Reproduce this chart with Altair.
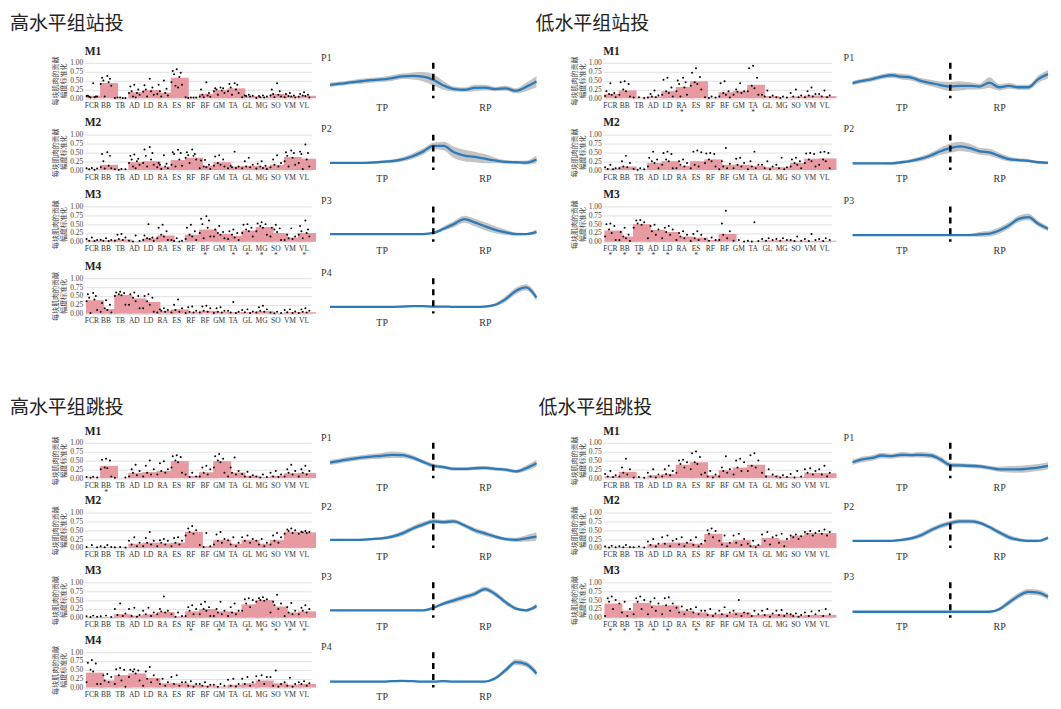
import json
import altair as alt
import pandas as pd

SERIF = "Liberation Serif"
CJK = "Noto Sans CJK SC"
BAR_COLOR = "#e79aa2"
LINE_COLOR = "#2b7bba"
BAND_COLOR = "#c4c4c4"

MUSCLES = ["FCR", "BB", "TB", "AD", "LD", "RA", "ES", "RF", "BF", "GM", "TA", "GL", "MG", "SO", "VM", "VL"]
Y_TITLE = ["每块肌肉的贡献", "幅度标准化"]
Y_TICKS = [0, 0.25, 0.5, 0.75, 1.0]
T_GRID = [0, 5, 10, 15, 20, 25, 30, 35, 40, 45, 50, 55, 60, 65, 70, 75, 80, 85, 90, 95, 100]
PHASE_SPLIT = 50
PHASE_LABELS = ["TP", "RP"]

QUAD_TITLES = ["高水平组站投", "低水平组站投", "高水平组跳投", "低水平组跳投"]
M_TITLES = ["M1", "M2", "M3", "M4"]
P_TITLES = ["P1", "P2", "P3", "P4"]

# ---------------- 高水平组站投 ----------------
HS_BARS = [
    [0.07, 0.43, 0.01, 0.17, 0.23, 0.16, 0.58, 0.02, 0.13, 0.23, 0.28, 0.06, 0.04, 0.12, 0.06, 0.07],
    [0.02, 0.15, 0.02, 0.22, 0.25, 0.10, 0.28, 0.35, 0.12, 0.22, 0.10, 0.12, 0.10, 0.15, 0.37, 0.32],
    [0.04, 0.04, 0.07, 0.02, 0.10, 0.18, 0.02, 0.20, 0.35, 0.22, 0.17, 0.32, 0.42, 0.25, 0.12, 0.25],
    [0.38, 0.13, 0.53, 0.43, 0.33, 0.08, 0.12, 0.05, 0.08, 0.05, 0.04, 0.04, 0.07, 0.02, 0.04, 0.04],
]
HS_DOTS = [
    [[0.42, 0.07, 0.05, 0.04, 0.03, 0.06, 0.05, 0.02], [0.63, 0.58, 0.55, 0.50, 0.45, 0.40, 0.35, 0.05],
     [0.02, 0.01, 0.01, 0.02, 0.01], [0.38, 0.33, 0.25, 0.20, 0.15, 0.15, 0.10, 0.05, 0.02],
     [0.55, 0.37, 0.30, 0.25, 0.20, 0.18, 0.10, 0.05], [0.50, 0.38, 0.27, 0.20, 0.15, 0.12, 0.08, 0.05],
     [0.82, 0.77, 0.72, 0.68, 0.60, 0.45, 0.38, 0.35, 0.30], [0.02, 0.03, 0.02, 0.01, 0.02],
     [0.45, 0.25, 0.15, 0.10, 0.08, 0.05, 0.04, 0.03], [0.30, 0.28, 0.28, 0.25, 0.22, 0.20, 0.15, 0.10],
     [0.42, 0.40, 0.38, 0.30, 0.25, 0.20, 0.15, 0.10], [0.10, 0.08, 0.07, 0.06, 0.05, 0.03],
     [0.08, 0.06, 0.05, 0.03, 0.02, 0.01], [0.42, 0.25, 0.20, 0.12, 0.10, 0.08, 0.05, 0.03],
     [0.15, 0.12, 0.08, 0.06, 0.05, 0.03, 0.02], [0.17, 0.12, 0.10, 0.08, 0.06, 0.04, 0.02]],
    [[0.06, 0.05, 0.04, 0.02, 0.01], [0.50, 0.45, 0.40, 0.25, 0.12, 0.08, 0.05, 0.04],
     [0.03, 0.02, 0.02, 0.01], [0.44, 0.40, 0.32, 0.30, 0.25, 0.20, 0.15, 0.10, 0.05],
     [0.65, 0.58, 0.48, 0.40, 0.30, 0.20, 0.15, 0.10], [0.42, 0.20, 0.18, 0.15, 0.10, 0.08, 0.05, 0.03],
     [0.57, 0.50, 0.48, 0.45, 0.30, 0.15, 0.12, 0.10], [0.58, 0.50, 0.45, 0.42, 0.40, 0.35, 0.30, 0.20],
     [0.28, 0.27, 0.15, 0.10, 0.08, 0.05, 0.03], [0.42, 0.38, 0.30, 0.20, 0.15, 0.12, 0.10],
     [0.52, 0.12, 0.10, 0.08, 0.06, 0.05], [0.35, 0.25, 0.15, 0.10, 0.08, 0.05],
     [0.25, 0.18, 0.12, 0.10, 0.06, 0.04, 0.03], [0.42, 0.30, 0.20, 0.15, 0.10, 0.08],
     [0.55, 0.50, 0.48, 0.40, 0.35, 0.25, 0.15, 0.10], [0.72, 0.52, 0.48, 0.45, 0.30, 0.20, 0.10, 0.03]],
    [[0.12, 0.08, 0.05, 0.03, 0.02], [0.10, 0.06, 0.05, 0.03, 0.02],
     [0.22, 0.20, 0.12, 0.08, 0.05, 0.03], [0.18, 0.03, 0.02, 0.01],
     [0.50, 0.18, 0.12, 0.10, 0.08, 0.05, 0.02], [0.48, 0.40, 0.30, 0.20, 0.15, 0.10, 0.05],
     [0.10, 0.05, 0.03, 0.02, 0.01], [0.48, 0.40, 0.30, 0.20, 0.15, 0.08, 0.05],
     [0.72, 0.65, 0.60, 0.50, 0.40, 0.25, 0.15, 0.10], [0.45, 0.35, 0.28, 0.25, 0.20, 0.15, 0.10],
     [0.35, 0.30, 0.25, 0.20, 0.12, 0.08, 0.05], [0.50, 0.48, 0.40, 0.35, 0.30, 0.25, 0.15],
     [0.55, 0.52, 0.50, 0.45, 0.40, 0.30, 0.20], [0.48, 0.40, 0.38, 0.35, 0.28, 0.15, 0.05],
     [0.38, 0.20, 0.15, 0.10, 0.08, 0.05], [0.60, 0.45, 0.35, 0.30, 0.25, 0.20, 0.15, 0.10]],
    [[0.58, 0.55, 0.50, 0.45, 0.40, 0.35, 0.10, 0.02], [0.38, 0.30, 0.25, 0.15, 0.10, 0.05, 0.03],
     [0.62, 0.60, 0.58, 0.55, 0.52, 0.50, 0.25], [0.60, 0.55, 0.50, 0.45, 0.35, 0.25, 0.15],
     [0.55, 0.50, 0.45, 0.35, 0.25, 0.15, 0.05], [0.15, 0.12, 0.10, 0.08, 0.05, 0.03],
     [0.40, 0.25, 0.15, 0.10, 0.05, 0.03], [0.20, 0.18, 0.08, 0.05, 0.03, 0.02],
     [0.22, 0.20, 0.15, 0.08, 0.05, 0.03], [0.18, 0.15, 0.08, 0.05, 0.03, 0.02],
     [0.33, 0.08, 0.05, 0.03, 0.02], [0.12, 0.10, 0.06, 0.04, 0.02],
     [0.22, 0.18, 0.12, 0.08, 0.05, 0.03], [0.05, 0.03, 0.02, 0.01],
     [0.12, 0.10, 0.06, 0.04, 0.02], [0.15, 0.12, 0.08, 0.05, 0.03, 0.02]],
]
HS_STARS = [[], [], ["BF", "TA", "GL", "MG", "SO", "VL"], []]
HS_MEAN = [
    [0.38, 0.41, 0.45, 0.48, 0.51, 0.53, 0.57, 0.62, 0.63, 0.61, 0.52, 0.36, 0.26, 0.24, 0.29, 0.30, 0.26, 0.28, 0.21, 0.32, 0.47],
    [0.20, 0.20, 0.20, 0.20, 0.21, 0.23, 0.25, 0.30, 0.39, 0.52, 0.68, 0.68, 0.50, 0.41, 0.37, 0.32, 0.27, 0.23, 0.22, 0.21, 0.30],
    [0.22, 0.22, 0.22, 0.22, 0.22, 0.22, 0.22, 0.22, 0.22, 0.22, 0.25, 0.37, 0.50, 0.64, 0.55, 0.44, 0.34, 0.27, 0.22, 0.22, 0.28],
    [0.19, 0.19, 0.19, 0.19, 0.19, 0.19, 0.19, 0.20, 0.21, 0.21, 0.20, 0.20, 0.19, 0.19, 0.19, 0.20, 0.25, 0.41, 0.64, 0.74, 0.45],
]
HS_HALF = [
    [0.06, 0.06, 0.06, 0.07, 0.07, 0.07, 0.08, 0.08, 0.10, 0.13, 0.16, 0.12, 0.07, 0.06, 0.09, 0.08, 0.06, 0.07, 0.07, 0.12, 0.16],
    [0.03, 0.03, 0.03, 0.03, 0.04, 0.04, 0.05, 0.06, 0.08, 0.09, 0.09, 0.12, 0.16, 0.16, 0.15, 0.13, 0.08, 0.05, 0.04, 0.06, 0.11],
    [0.02, 0.02, 0.02, 0.02, 0.02, 0.02, 0.02, 0.02, 0.02, 0.02, 0.03, 0.06, 0.09, 0.10, 0.11, 0.11, 0.10, 0.08, 0.04, 0.03, 0.07],
    [0.02, 0.02, 0.02, 0.02, 0.02, 0.02, 0.02, 0.02, 0.02, 0.02, 0.02, 0.02, 0.02, 0.02, 0.02, 0.03, 0.04, 0.08, 0.09, 0.09, 0.09],
]

# ---------------- 低水平组站投 ----------------
LS_BARS = [
    [0.12, 0.22, 0.02, 0.05, 0.20, 0.32, 0.48, 0.02, 0.17, 0.20, 0.38, 0.06, 0.02, 0.05, 0.08, 0.06],
    [0.04, 0.10, 0.02, 0.20, 0.25, 0.12, 0.25, 0.30, 0.15, 0.15, 0.12, 0.08, 0.08, 0.20, 0.32, 0.33],
    [0.32, 0.15, 0.50, 0.34, 0.28, 0.15, 0.12, 0.05, 0.22, 0.01, 0.02, 0.04, 0.04, 0.03, 0.03, 0.03],
]
LS_DOTS = [
    [[0.42, 0.20, 0.15, 0.12, 0.10, 0.06, 0.03], [0.48, 0.45, 0.40, 0.25, 0.20, 0.10, 0.05],
     [0.03, 0.02, 0.01], [0.22, 0.12, 0.08, 0.05, 0.03, 0.02],
     [0.58, 0.52, 0.30, 0.20, 0.15, 0.10, 0.05], [0.58, 0.50, 0.45, 0.40, 0.30, 0.20, 0.10, 0.05],
     [0.85, 0.72, 0.60, 0.45, 0.40, 0.35, 0.25], [0.05, 0.03, 0.02, 0.01],
     [0.48, 0.42, 0.20, 0.15, 0.10, 0.05, 0.02], [0.42, 0.25, 0.20, 0.18, 0.15, 0.10],
     [0.92, 0.85, 0.58, 0.35, 0.28, 0.20, 0.10], [0.22, 0.10, 0.08, 0.05, 0.03],
     [0.05, 0.03, 0.02, 0.01], [0.25, 0.15, 0.08, 0.05, 0.03],
     [0.30, 0.20, 0.12, 0.08, 0.05, 0.03], [0.22, 0.12, 0.08, 0.05, 0.03]],
    [[0.15, 0.08, 0.05, 0.03, 0.02], [0.40, 0.25, 0.20, 0.10, 0.08, 0.05],
     [0.05, 0.03, 0.02, 0.01], [0.52, 0.35, 0.30, 0.25, 0.20, 0.10, 0.05],
     [0.52, 0.48, 0.45, 0.30, 0.25, 0.15, 0.05], [0.30, 0.25, 0.20, 0.15, 0.10, 0.05],
     [0.55, 0.52, 0.50, 0.15, 0.10, 0.05], [0.48, 0.47, 0.45, 0.30, 0.25, 0.20, 0.10],
     [0.62, 0.25, 0.18, 0.10, 0.05, 0.02], [0.35, 0.32, 0.20, 0.15, 0.10, 0.05],
     [0.52, 0.25, 0.15, 0.10, 0.05, 0.02], [0.25, 0.15, 0.10, 0.05, 0.02],
     [0.35, 0.15, 0.08, 0.05, 0.02], [0.35, 0.30, 0.25, 0.20, 0.15, 0.10, 0.05],
     [0.48, 0.47, 0.45, 0.30, 0.25, 0.20, 0.10], [0.52, 0.50, 0.48, 0.30, 0.25, 0.15, 0.05]],
    [[0.52, 0.50, 0.45, 0.35, 0.25, 0.15, 0.05], [0.40, 0.28, 0.20, 0.15, 0.10, 0.05, 0.02],
     [0.62, 0.60, 0.55, 0.52, 0.48, 0.40], [0.48, 0.45, 0.35, 0.30, 0.20, 0.10],
     [0.45, 0.40, 0.35, 0.28, 0.20, 0.10], [0.30, 0.25, 0.20, 0.15, 0.10, 0.05],
     [0.30, 0.22, 0.20, 0.10, 0.05, 0.02], [0.12, 0.08, 0.05, 0.03],
     [0.88, 0.52, 0.30, 0.20, 0.10, 0.05], [0.05, 0.03, 0.01],
     [0.55, 0.03, 0.02, 0.01], [0.10, 0.08, 0.05, 0.03],
     [0.10, 0.08, 0.05, 0.03], [0.15, 0.05, 0.03, 0.02],
     [0.22, 0.08, 0.05, 0.02], [0.10, 0.08, 0.05, 0.02]],
]
LS_STARS = [["RA", "TA"], [], ["FCR", "BB", "TB", "AD", "LD", "ES"]]
LS_MEAN = [
    [0.43, 0.49, 0.54, 0.61, 0.65, 0.61, 0.58, 0.49, 0.43, 0.37, 0.33, 0.35, 0.35, 0.33, 0.44, 0.31, 0.35, 0.31, 0.31, 0.54, 0.68],
    [0.19, 0.19, 0.19, 0.19, 0.19, 0.22, 0.26, 0.32, 0.41, 0.53, 0.62, 0.67, 0.62, 0.53, 0.50, 0.40, 0.31, 0.28, 0.26, 0.22, 0.20],
    [0.19, 0.19, 0.19, 0.19, 0.19, 0.19, 0.19, 0.19, 0.19, 0.19, 0.19, 0.19, 0.19, 0.21, 0.23, 0.32, 0.46, 0.65, 0.70, 0.51, 0.37],
]
LS_HALF = [
    [0.06, 0.06, 0.07, 0.07, 0.07, 0.08, 0.08, 0.08, 0.09, 0.10, 0.13, 0.13, 0.10, 0.08, 0.15, 0.09, 0.08, 0.07, 0.07, 0.10, 0.12],
    [0.03, 0.03, 0.03, 0.03, 0.04, 0.04, 0.05, 0.07, 0.08, 0.10, 0.13, 0.13, 0.12, 0.10, 0.10, 0.09, 0.07, 0.05, 0.05, 0.04, 0.04],
    [0.02, 0.02, 0.02, 0.02, 0.02, 0.02, 0.02, 0.02, 0.02, 0.02, 0.02, 0.02, 0.03, 0.07, 0.08, 0.09, 0.09, 0.09, 0.09, 0.08, 0.07],
]

# ---------------- 高水平组跳投 ----------------
HJ_BARS = [
    [0.02, 0.35, 0.01, 0.15, 0.17, 0.20, 0.48, 0.06, 0.17, 0.48, 0.16, 0.07, 0.03, 0.07, 0.14, 0.15],
    [0.02, 0.02, 0.02, 0.12, 0.15, 0.13, 0.15, 0.45, 0.05, 0.22, 0.12, 0.22, 0.12, 0.22, 0.45, 0.44],
    [0.02, 0.02, 0.10, 0.06, 0.10, 0.16, 0.04, 0.18, 0.25, 0.18, 0.17, 0.38, 0.50, 0.32, 0.15, 0.18],
    [0.42, 0.20, 0.35, 0.40, 0.27, 0.12, 0.12, 0.08, 0.06, 0.03, 0.08, 0.12, 0.20, 0.12, 0.08, 0.10],
]
HJ_DOTS = [
    [[0.04, 0.03, 0.02, 0.01], [0.55, 0.52, 0.50, 0.30, 0.28, 0.25, 0.05],
     [0.02, 0.01], [0.38, 0.25, 0.20, 0.15, 0.08, 0.05],
     [0.50, 0.35, 0.25, 0.15, 0.10, 0.05], [0.48, 0.42, 0.25, 0.20, 0.15, 0.10],
     [0.65, 0.62, 0.60, 0.50, 0.45, 0.30, 0.15], [0.15, 0.10, 0.05, 0.03],
     [0.35, 0.30, 0.25, 0.15, 0.10, 0.05], [0.68, 0.62, 0.55, 0.50, 0.45, 0.30, 0.15],
     [0.58, 0.30, 0.20, 0.15, 0.10, 0.05], [0.18, 0.12, 0.08, 0.05, 0.03],
     [0.10, 0.05, 0.03, 0.02], [0.20, 0.15, 0.10, 0.05, 0.03],
     [0.38, 0.25, 0.20, 0.15, 0.10, 0.05], [0.35, 0.25, 0.20, 0.15, 0.10, 0.05]],
    [[0.08, 0.03, 0.02], [0.08, 0.05, 0.03, 0.02],
     [0.03, 0.02, 0.01], [0.30, 0.20, 0.15, 0.10, 0.05],
     [0.45, 0.28, 0.20, 0.15, 0.10, 0.05], [0.25, 0.22, 0.20, 0.15, 0.10, 0.05],
     [0.30, 0.28, 0.20, 0.15, 0.10, 0.05], [0.62, 0.55, 0.50, 0.45, 0.40, 0.35],
     [0.42, 0.08, 0.05, 0.03], [0.45, 0.38, 0.25, 0.20, 0.15, 0.10],
     [0.30, 0.22, 0.15, 0.10, 0.05], [0.35, 0.30, 0.25, 0.20, 0.15],
     [0.25, 0.20, 0.15, 0.10, 0.05], [0.42, 0.35, 0.30, 0.20, 0.15, 0.10],
     [0.55, 0.52, 0.50, 0.48, 0.42, 0.40], [0.48, 0.46, 0.45, 0.44, 0.42, 0.40]],
    [[0.06, 0.04, 0.03, 0.02], [0.06, 0.04, 0.02],
     [0.40, 0.25, 0.12, 0.08, 0.05], [0.28, 0.25, 0.08, 0.05, 0.03],
     [0.28, 0.20, 0.15, 0.10, 0.05], [0.60, 0.25, 0.20, 0.18, 0.15, 0.10],
     [0.15, 0.10, 0.05, 0.03], [0.35, 0.30, 0.25, 0.20, 0.10, 0.05],
     [0.45, 0.38, 0.30, 0.25, 0.20, 0.10, 0.05], [0.45, 0.25, 0.20, 0.15, 0.10, 0.05],
     [0.40, 0.30, 0.20, 0.15, 0.10, 0.05], [0.55, 0.52, 0.50, 0.40, 0.30, 0.20],
     [0.58, 0.55, 0.52, 0.50, 0.48, 0.45], [0.65, 0.45, 0.40, 0.35, 0.25, 0.15],
     [0.42, 0.30, 0.20, 0.15, 0.10, 0.05], [0.35, 0.28, 0.25, 0.20, 0.15, 0.10]],
    [[0.78, 0.70, 0.68, 0.50, 0.45, 0.15, 0.10], [0.38, 0.35, 0.30, 0.20, 0.15, 0.10],
     [0.55, 0.52, 0.50, 0.35, 0.20, 0.10, 0.02], [0.52, 0.50, 0.48, 0.45, 0.40, 0.30, 0.20],
     [0.58, 0.45, 0.35, 0.25, 0.15, 0.05], [0.25, 0.22, 0.15, 0.10, 0.05],
     [0.35, 0.30, 0.15, 0.10, 0.05], [0.18, 0.15, 0.10, 0.05, 0.02],
     [0.15, 0.10, 0.08, 0.05, 0.02], [0.10, 0.08, 0.05, 0.02],
     [0.25, 0.22, 0.10, 0.05, 0.03], [0.30, 0.25, 0.15, 0.10, 0.05],
     [0.35, 0.32, 0.30, 0.20, 0.10], [0.48, 0.30, 0.10, 0.05, 0.02],
     [0.28, 0.15, 0.10, 0.05, 0.02], [0.18, 0.15, 0.12, 0.10, 0.05]],
]
HJ_STARS = [["BB"], [], ["RF", "GM", "GL", "MG", "SO", "VM", "VL"], []]
HJ_MEAN = [
    [0.44, 0.49, 0.54, 0.58, 0.61, 0.63, 0.66, 0.65, 0.58, 0.46, 0.35, 0.31, 0.26, 0.26, 0.28, 0.29, 0.26, 0.24, 0.19, 0.28, 0.42],
    [0.23, 0.23, 0.23, 0.23, 0.25, 0.27, 0.32, 0.41, 0.55, 0.66, 0.75, 0.73, 0.75, 0.64, 0.50, 0.41, 0.32, 0.25, 0.23, 0.27, 0.32],
    [0.21, 0.21, 0.21, 0.21, 0.21, 0.21, 0.21, 0.21, 0.21, 0.21, 0.28, 0.40, 0.49, 0.58, 0.67, 0.81, 0.67, 0.44, 0.26, 0.21, 0.33],
    [0.17, 0.17, 0.17, 0.17, 0.17, 0.17, 0.18, 0.19, 0.18, 0.17, 0.17, 0.18, 0.17, 0.17, 0.17, 0.17, 0.26, 0.49, 0.72, 0.66, 0.40],
]
HJ_HALF = [
    [0.07, 0.07, 0.07, 0.07, 0.07, 0.08, 0.09, 0.08, 0.07, 0.06, 0.06, 0.05, 0.05, 0.05, 0.05, 0.05, 0.05, 0.05, 0.05, 0.08, 0.10],
    [0.02, 0.02, 0.02, 0.03, 0.03, 0.04, 0.05, 0.07, 0.07, 0.07, 0.06, 0.06, 0.06, 0.06, 0.07, 0.07, 0.06, 0.05, 0.06, 0.09, 0.12],
    [0.02, 0.02, 0.02, 0.02, 0.02, 0.02, 0.02, 0.02, 0.02, 0.02, 0.03, 0.05, 0.07, 0.07, 0.07, 0.07, 0.07, 0.07, 0.05, 0.04, 0.07],
    [0.02, 0.02, 0.02, 0.02, 0.02, 0.02, 0.02, 0.02, 0.02, 0.02, 0.02, 0.02, 0.02, 0.02, 0.02, 0.02, 0.04, 0.07, 0.08, 0.08, 0.09],
]

# ---------------- 低水平组跳投 ----------------
LJ_BARS = [
    [0.05, 0.18, 0.02, 0.08, 0.12, 0.38, 0.45, 0.08, 0.22, 0.30, 0.38, 0.08, 0.04, 0.04, 0.15, 0.14],
    [0.02, 0.03, 0.02, 0.10, 0.15, 0.15, 0.12, 0.40, 0.16, 0.22, 0.08, 0.28, 0.22, 0.35, 0.42, 0.42],
    [0.40, 0.20, 0.42, 0.35, 0.35, 0.20, 0.15, 0.10, 0.12, 0.15, 0.08, 0.10, 0.10, 0.06, 0.08, 0.08],
]
LJ_DOTS = [
    [[0.20, 0.12, 0.08, 0.05, 0.03], [0.55, 0.30, 0.25, 0.15, 0.10, 0.05],
     [0.03, 0.02, 0.01], [0.25, 0.15, 0.10, 0.05, 0.02],
     [0.35, 0.25, 0.20, 0.12, 0.08, 0.05], [0.52, 0.50, 0.45, 0.40, 0.30, 0.15],
     [0.75, 0.70, 0.60, 0.45, 0.40, 0.25, 0.10], [0.20, 0.15, 0.10, 0.05, 0.02],
     [0.62, 0.30, 0.25, 0.20, 0.15, 0.05], [0.55, 0.50, 0.45, 0.30, 0.20, 0.10],
     [0.70, 0.65, 0.50, 0.35, 0.30, 0.20], [0.25, 0.15, 0.10, 0.05],
     [0.08, 0.05, 0.03, 0.02], [0.20, 0.12, 0.05, 0.02],
     [0.28, 0.25, 0.20, 0.15, 0.10], [0.35, 0.25, 0.15, 0.10, 0.05]],
    [[0.06, 0.04, 0.02, 0.01], [0.08, 0.05, 0.03, 0.02],
     [0.04, 0.02, 0.01], [0.25, 0.18, 0.12, 0.08, 0.04],
     [0.35, 0.30, 0.20, 0.12, 0.05], [0.30, 0.25, 0.15, 0.10, 0.05],
     [0.30, 0.22, 0.12, 0.08, 0.04], [0.55, 0.50, 0.48, 0.40, 0.30, 0.20],
     [0.35, 0.20, 0.15, 0.10, 0.05], [0.40, 0.35, 0.25, 0.15, 0.08],
     [0.20, 0.12, 0.08, 0.05, 0.02], [0.45, 0.38, 0.30, 0.20, 0.10],
     [0.40, 0.35, 0.25, 0.15, 0.05], [0.38, 0.35, 0.33, 0.30, 0.25],
     [0.48, 0.45, 0.42, 0.40, 0.35], [0.52, 0.48, 0.45, 0.40, 0.35]],
    [[0.60, 0.55, 0.50, 0.45, 0.25, 0.05], [0.45, 0.40, 0.25, 0.15, 0.05],
     [0.60, 0.55, 0.50, 0.45, 0.25, 0.10], [0.55, 0.45, 0.40, 0.30, 0.20, 0.10],
     [0.58, 0.55, 0.40, 0.35, 0.20, 0.10], [0.32, 0.28, 0.22, 0.15, 0.10],
     [0.30, 0.25, 0.20, 0.15, 0.10], [0.25, 0.20, 0.12, 0.08, 0.05],
     [0.30, 0.20, 0.15, 0.10, 0.05], [0.50, 0.20, 0.15, 0.10, 0.05],
     [0.20, 0.12, 0.10, 0.05], [0.25, 0.20, 0.12, 0.08, 0.03],
     [0.22, 0.20, 0.12, 0.08, 0.05], [0.12, 0.10, 0.08, 0.05, 0.03],
     [0.18, 0.15, 0.10, 0.05], [0.25, 0.20, 0.10, 0.05]],
]
LJ_STARS = [[], [], ["FCR", "BB", "TB", "AD", "LD", "ES"]]
LJ_MEAN = [
    [0.45, 0.53, 0.57, 0.64, 0.62, 0.66, 0.65, 0.66, 0.64, 0.53, 0.37, 0.36, 0.35, 0.33, 0.29, 0.25, 0.25, 0.25, 0.27, 0.30, 0.35],
    [0.20, 0.20, 0.20, 0.20, 0.20, 0.23, 0.27, 0.36, 0.50, 0.62, 0.70, 0.75, 0.75, 0.71, 0.59, 0.44, 0.30, 0.23, 0.20, 0.20, 0.29],
    [0.17, 0.17, 0.17, 0.17, 0.17, 0.17, 0.17, 0.17, 0.17, 0.17, 0.17, 0.17, 0.17, 0.17, 0.17, 0.24, 0.43, 0.62, 0.73, 0.71, 0.59],
]
LJ_HALF = [
    [0.07, 0.08, 0.08, 0.08, 0.07, 0.08, 0.07, 0.08, 0.08, 0.08, 0.07, 0.06, 0.06, 0.06, 0.06, 0.07, 0.09, 0.10, 0.10, 0.10, 0.10],
    [0.02, 0.02, 0.02, 0.03, 0.03, 0.04, 0.05, 0.07, 0.07, 0.07, 0.07, 0.06, 0.06, 0.06, 0.06, 0.07, 0.07, 0.05, 0.04, 0.04, 0.04],
    [0.02, 0.02, 0.02, 0.02, 0.02, 0.02, 0.02, 0.02, 0.02, 0.02, 0.02, 0.02, 0.02, 0.02, 0.03, 0.05, 0.08, 0.08, 0.08, 0.08, 0.08],
]

# ---------------- layout ----------------
PANEL_H = 35.5
COL_W = [227, 19, 207, 67, 229, 21, 196]
GAP_TOP = 36
GAP_BOT = 34
TITLE_H_TOP = 26
TITLE_H_BOT = 21.5
BLOCK_GAP = 107
QUAD_DX = [-75, -68, -75, -65]

SLOT_PATTERN = [4, 1, 7, 2, 6, 0, 8, 3, 5]
NSLOT = 9

SP_DF = pd.DataFrame({"v": [0]})


def slots(n):
    if n == 1:
        return [4]
    p = SLOT_PATTERN[:n]
    order = sorted(range(n), key=lambda i: p[i])
    rank = [0] * n
    for r, i in enumerate(order):
        rank[i] = r
    return [int(round(r * (NSLOT - 1) / (n - 1))) for r in rank]


def spacer(w, h, title=None, dx=0):
    c = alt.Chart(SP_DF).mark_point(opacity=0, size=1).encode(x=alt.value(0), y=alt.value(0))
    if title:
        return c.properties(width=w, height=h, title=alt.TitleParams(
            title, anchor="start", frame="group", orient="top", dx=dx, offset=2,
            font=CJK, fontSize=19, fontWeight="normal", color="#222"))
    return c.properties(width=w, height=h)


def m_panel(label, bars, dots, stars, width):
    bdf = pd.DataFrame({"muscle": MUSCLES, "v": bars})
    rows = []
    for m, vals in zip(MUSCLES, dots):
        for v, s in zip(vals, slots(len(vals))):
            rows.append({"muscle": m, "v": v, "k": s})
    ddf = pd.DataFrame(rows)
    if stars:
        lexpr = "indexof(%s, datum.value) >= 0 ? [datum.label, '*'] : datum.label" % json.dumps(stars)
    else:
        lexpr = "datum.label"
    x = alt.X("muscle:N", sort=MUSCLES, scale=alt.Scale(paddingInner=0.16, paddingOuter=0.08),
              axis=alt.Axis(title=None, labelExpr=lexpr, labelOverlap=False, labelAngle=0))
    y = alt.Y("v:Q", scale=alt.Scale(domain=[0, 1], nice=False),
              axis=alt.Axis(values=Y_TICKS, format=".2f", title=Y_TITLE,
                            labelOverlap=False, labelFlush=False))
    bar = alt.Chart(bdf).mark_bar(color=BAR_COLOR).encode(x=x, y=y)
    pts = alt.Chart(ddf).mark_circle(size=4, color="black", opacity=1).encode(
        x=x, y=y,
        xOffset=alt.XOffset("k:O", scale=alt.Scale(domain=list(range(NSLOT)))))
    return alt.layer(bar, pts).properties(
        width=width, height=PANEL_H,
        title=alt.TitleParams(label, anchor="start", frame="group", offset=4, dy=5, font=SERIF,
                              fontSize=11.5, fontWeight="bold", color="#222"))


def p_panel(label, mean, half, width):
    df = pd.DataFrame({"t": T_GRID, "m": mean,
                       "lo": [a - b for a, b in zip(mean, half)],
                       "hi": [a + b for a, b in zip(mean, half)]})
    mids = [PHASE_SPLIT / 2, (PHASE_SPLIT + 100) / 2]
    lexpr = "datum.value < %s ? '%s' : '%s'" % (PHASE_SPLIT, PHASE_LABELS[0], PHASE_LABELS[1])
    x = alt.X("t:Q", scale=alt.Scale(domain=[0, 100], nice=False),
              axis=alt.Axis(title=None, values=mids, labelExpr=lexpr, ticks=False, domain=False,
                            grid=False, labelFont=SERIF, labelFontSize=10, labelColor="#333",
                            labelPadding=4))
    y = alt.Y("lo:Q", scale=alt.Scale(domain=[0, 1], nice=False), axis=None)
    band = alt.Chart(df).mark_area(color=BAND_COLOR, opacity=1, interpolate="monotone").encode(
        x=x, y=y, y2="hi:Q")
    line = alt.Chart(df).mark_line(color=LINE_COLOR, strokeWidth=2.3, interpolate="monotone").encode(
        x=x, y=alt.Y("m:Q", scale=alt.Scale(domain=[0, 1], nice=False), axis=None))
    rule = alt.Chart(pd.DataFrame({"t": [PHASE_SPLIT]})).mark_rule(
        color="black", strokeWidth=2.5, strokeDash=[6, 5]).encode(x=x)
    return alt.layer(band, line, rule).properties(
        width=width, height=PANEL_H,
        title=alt.TitleParams(label, anchor="start", frame="group", offset=4, dy=5, dx=-9, font=SERIF,
                              fontSize=10, fontWeight="normal", color="#333"))


def gap_row(h):
    return [spacer(w, h) for w in COL_W]


def title_row(h, left_title, left_dx, right_title, right_dx):
    cells = gap_row(h)
    cells[0] = spacer(COL_W[0], h, left_title, left_dx)
    cells[4] = spacer(COL_W[4], h, right_title, right_dx)
    return cells


def block(gap, lbars, ldots, lstars, lmean, lhalf, rbars, rdots, rstars, rmean, rhalf):
    rows = []
    for i in range(4):
        if i > 0:
            rows.append(gap_row(gap))
        cells = [m_panel(M_TITLES[i], lbars[i], ldots[i], lstars[i], COL_W[0]),
                 spacer(COL_W[1], PANEL_H),
                 p_panel(P_TITLES[i], lmean[i], lhalf[i], COL_W[2]),
                 spacer(COL_W[3], PANEL_H)]
        if i < len(rbars):
            cells += [m_panel(M_TITLES[i], rbars[i], rdots[i], rstars[i], COL_W[4]),
                      spacer(COL_W[5], PANEL_H),
                      p_panel(P_TITLES[i], rmean[i], rhalf[i], COL_W[6])]
        else:
            cells += [spacer(COL_W[4], PANEL_H), spacer(COL_W[5], PANEL_H), spacer(COL_W[6], PANEL_H)]
        rows.append(cells)
    return rows


grid = []
grid.append(title_row(TITLE_H_TOP, QUAD_TITLES[0], QUAD_DX[0], QUAD_TITLES[1], QUAD_DX[1]))
grid += block(GAP_TOP, HS_BARS, HS_DOTS, HS_STARS, HS_MEAN, HS_HALF,
              LS_BARS, LS_DOTS, LS_STARS, LS_MEAN, LS_HALF)
grid.append(gap_row(BLOCK_GAP))
grid.append(title_row(TITLE_H_BOT, QUAD_TITLES[2], QUAD_DX[2], QUAD_TITLES[3], QUAD_DX[3]))
grid += block(GAP_BOT, HJ_BARS, HJ_DOTS, HJ_STARS, HJ_MEAN, HJ_HALF,
              LJ_BARS, LJ_DOTS, LJ_STARS, LJ_MEAN, LJ_HALF)

cells = [c for row in grid for c in row]

chart = alt.concat(*cells, columns=len(COL_W), spacing=0, bounds="flush", align="each").properties(
    padding={"left": 2, "top": 6, "right": 0, "bottom": 0},
    background="white",
).configure_view(stroke=None).configure_axisY(
    titleFont=CJK, titleFontSize=7, titleFontWeight="normal", titleColor="#444",
    titlePadding=3, titleLineHeight=8,
    labelFont=SERIF, labelFontSize=7.5, labelColor="#444", labelPadding=2,
    ticks=False, domain=False, grid=True, gridColor="#e0e0e0", gridWidth=1,
).configure_axisBand(
    ticks=False, domain=False, grid=False,
    labelFont=SERIF, labelFontSize=7.5, labelColor="#333", labelPadding=3,
    labelLineHeight=7,
)

chart.save("out.html", embed_options={"renderer": "svg", "actions": False})
